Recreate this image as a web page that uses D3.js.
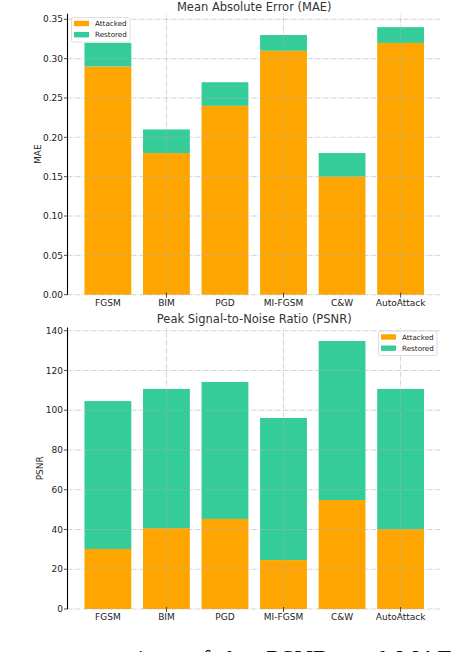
<!DOCTYPE html>
<html>
<head>
<meta charset="utf-8">
<script src="https://cdn.jsdelivr.net/npm/d3@7"></script>
<style>
  body { margin: 0; background: #fff; }
  svg { display: block; }
</style>
</head>
<body>
<svg id="chart"></svg>
<script>
var width = 458, height = 652;

// data
var methods = ["FGSM", "BIM", "PGD", "MI-FGSM", "C&W", "AutoAttack"];
var maeAttacked = [0.29, 0.18, 0.24, 0.31, 0.15, 0.32];
var maeRestored = [0.03, 0.03, 0.03, 0.02, 0.03, 0.02];
var psnrAttacked = [30.2, 40.7, 45.3, 24.6, 54.8, 40.2];
var psnrRestored = [74.4, 70.0, 68.9, 71.5, 80.0, 70.5];
var maeTicks = [0, 0.05, 0.10, 0.15, 0.20, 0.25, 0.30, 0.35];
var psnrTicks = [0, 20, 40, 60, 80, 100, 120, 140];
var seriesNames = ["Attacked", "Restored"];

var colors = ["#ffa500", "#34cd99"];
var font = "DejaVu Sans, sans-serif";

const svg = d3.select("svg#chart")
    .attr("width", width)
    .attr("height", height);

var x = d3.scaleBand()
    .domain(methods)
    .range([67.5, 441])
    .paddingInner(0.2)
    .paddingOuter(0.29);

// top panel
drawPanel({
    title: "Mean Absolute Error (MAE)",
    ylabel: "MAE",
    attacked: maeAttacked,
    restored: maeRestored,
    ticks: maeTicks,
    fmt: d3.format(".2f"),
    y0: 294.7, pxPerUnit: 786.9,
    titleY: 11, labelY: 305.5, ylabelX: 38,
    legend: {x: 71.5, y: 17.5}
});

// bottom panel
drawPanel({
    title: "Peak Signal-to-Noise Ratio (PSNR)",
    ylabel: "PSNR",
    attacked: psnrAttacked,
    restored: psnrRestored,
    ticks: psnrTicks,
    fmt: d3.format("d"),
    y0: 609, pxPerUnit: 1.988,
    titleY: 323, labelY: 619.5, ylabelX: 40,
    legend: {x: 378.5, y: 331}
});

function drawPanel(cfg) {
    var totals = cfg.attacked.map((d, i) => d + cfg.restored[i]);
    var top = d3.max(totals) * 1.05;
    var y = d3.scaleLinear()
        .domain([0, top])
        .range([cfg.y0, cfg.y0 - top * cfg.pxPerUnit]);

    var g = svg.append("g");

    // bars
    g.selectAll(".att").data(cfg.attacked)
        .enter().append("rect")
        .attr("x", (d, i) => x(methods[i]))
        .attr("width", x.bandwidth())
        .attr("y", d => y(d))
        .attr("height", d => y(0) - y(d))
        .style("fill", colors[0]);

    g.selectAll(".res").data(cfg.restored)
        .enter().append("rect")
        .attr("x", (d, i) => x(methods[i]))
        .attr("width", x.bandwidth())
        .attr("y", (d, i) => y(d + cfg.attacked[i]))
        .attr("height", (d, i) => y(cfg.attacked[i]) - y(d + cfg.attacked[i]))
        .style("fill", colors[1]);

    // grid (drawn over the bars, as in the picture)
    g.selectAll(".gh").data(cfg.ticks)
        .enter().append("line")
        .attr("x1", 67.5).attr("x2", 441)
        .attr("y1", d => y(d)).attr("y2", d => y(d))
        .style("stroke", "#b0b0b0")
        .style("stroke-opacity", 0.7)
        .style("stroke-width", 0.8)
        .style("stroke-dasharray", "4.8,1.2,0.8,1.2");

    // vertical grid only shows at every other category
    g.selectAll(".gv").data(methods.filter((d, i) => i % 2 == 1))
        .enter().append("line")
        .attr("x1", d => x(d) + x.bandwidth() / 2)
        .attr("x2", d => x(d) + x.bandwidth() / 2)
        .attr("y1", y(0)).attr("y2", y(top))
        .style("stroke", "#b0b0b0")
        .style("stroke-opacity", 0.7)
        .style("stroke-width", 0.8)
        .style("stroke-dasharray", "4.8,1.2,0.8,1.2");

    // x ticks + labels
    g.selectAll(".xt").data(methods.filter((d, i) => i % 2 == 1))
        .enter().append("line")
        .attr("x1", d => x(d) + x.bandwidth() / 2)
        .attr("x2", d => x(d) + x.bandwidth() / 2)
        .attr("y1", y(0) - 2).attr("y2", y(0) + 3)
        .style("stroke", "#222")
        .style("stroke-width", 0.8);

    g.selectAll(".xl").data(methods)
        .enter().append("text")
        .attr("x", d => x(d) + x.bandwidth() / 2)
        .attr("y", cfg.labelY)
        .attr("text-anchor", "middle")
        .style("font-family", font)
        .style("font-size", "9px")
        .style("fill", "#222")
        .text(d => d);

    // y axis: spine, ticks, labels
    g.append("line")
        .attr("x1", 67.5).attr("x2", 67.5)
        .attr("y1", y(0)).attr("y2", y(top))
        .style("stroke", "#000")
        .style("stroke-width", 1.1);

    g.selectAll(".yt").data(cfg.ticks)
        .enter().append("line")
        .attr("x1", 64).attr("x2", 67.5)
        .attr("y1", d => y(d)).attr("y2", d => y(d))
        .style("stroke", "#222")
        .style("stroke-width", 0.8);

    g.selectAll(".yl").data(cfg.ticks)
        .enter().append("text")
        .attr("x", 63)
        .attr("y", d => y(d) + 3.2)
        .attr("text-anchor", "end")
        .style("font-family", font)
        .style("font-size", "9px")
        .style("fill", "#222")
        .text(d => cfg.fmt(d));

    g.append("text")
        .attr("transform", "translate(" + cfg.ylabelX + "," + ((y(0) + y(top)) / 2) + ") rotate(-90)")
        .attr("text-anchor", "middle")
        .attr("dominant-baseline", "central")
        .style("font-family", font)
        .style("font-size", "9px")
        .style("fill", "#222")
        .text(cfg.ylabel);

    // title
    g.append("text")
        .attr("x", (67.5 + 441) / 2)
        .attr("y", cfg.titleY)
        .attr("text-anchor", "middle")
        .style("font-family", font)
        .style("font-size", "11.5px")
        .style("fill", "#333")
        .text(cfg.title);

    // legend
    var lg = g.append("g")
        .attr("transform", "translate(" + cfg.legend.x + "," + cfg.legend.y + ")");
    lg.append("rect")
        .attr("width", 58.5).attr("height", 24.5)
        .attr("rx", 1.5)
        .style("fill", "#fff")
        .style("fill-opacity", 0.8)
        .style("stroke", "#d6d6d6")
        .style("stroke-width", 0.8);
    seriesNames.forEach((name, i) => {
        lg.append("rect")
            .attr("x", 2.5).attr("y", 3.3 + i * 11.2)
            .attr("width", 15).attr("height", 5.4)
            .style("fill", colors[i]);
        lg.append("text")
            .attr("x", 23.5).attr("y", 8.6 + i * 11.2)
            .style("font-family", font)
            .style("font-size", "7.2px")
            .style("fill", "#222")
            .text(name);
    });
}

// caption line of the page below the figure (justified words), cut off at the bottom edge
var captionWords = ["representation", "of", "the", "PSNR", "and", "MAE"];
var captionX = [25, 189, 220, 266, 349, 396];

svg.append("text")
    .attr("y", 668)
    .style("font-family", "Liberation Serif, Times New Roman, serif")
    .style("font-size", "25.6px")
    .style("fill", "#111")
    .selectAll("tspan").data(captionWords)
    .enter().append("tspan")
    .attr("x", (d, i) => captionX[i])
    .text(d => d);
</script>
</body>
</html>
